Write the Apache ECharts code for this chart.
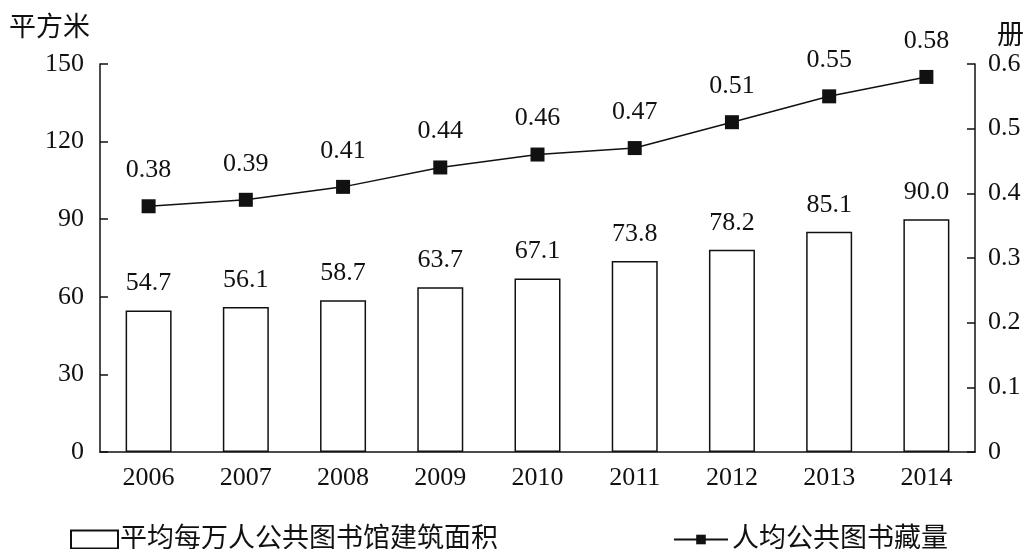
<!DOCTYPE html>
<html>
<head>
<meta charset="utf-8">
<script src="https://cdn.jsdelivr.net/npm/echarts@6/dist/echarts.min.js"></script>
<style>
  html, body { margin: 0; padding: 0; background: #fff; }
  #chart { width: 1028px; height: 549px; }
</style>
</head>
<body>
<div id="chart"></div>
<script>
// Years on the category axis
const years = ['2006', '2007', '2008', '2009', '2010', '2011', '2012', '2013', '2014'];
// Floor area of public libraries per 10,000 people (m²)
const areaPerTenThousand = [54.7, 56.1, 58.7, 63.7, 67.1, 73.8, 78.2, 85.1, 90.0];
// Public library holdings per person (volumes)
const booksPerCapita = [0.38, 0.39, 0.41, 0.44, 0.46, 0.47, 0.51, 0.55, 0.58];
// Axis tick values
const leftTicks = [0, 30, 60, 90, 120, 150];
const rightTicks = [0, 0.1, 0.2, 0.3, 0.4, 0.5, 0.6];

const areaName = '平均每万人公共图书馆建筑面积';
const booksName = '人均公共图书藏量';

const FONT = '"Liberation Serif", "Noto Sans CJK SC", serif';
const INK = '#111';
const NUM_SIZE = 26;
const CJK_SIZE = 27;

const chart = echarts.init(document.getElementById('chart'), null, { renderer: 'canvas' });

const axisCommon = {
  type: 'value',
  splitLine: { show: false },
  axisLine: { show: true, lineStyle: { color: INK, width: 1.5 } },
  axisTick: { show: true, inside: true, length: 8, lineStyle: { color: INK, width: 1.5 } },
  axisLabel: { color: INK, fontFamily: FONT, fontSize: NUM_SIZE },
  nameTextStyle: { color: INK, fontFamily: FONT, fontSize: CJK_SIZE }
};

chart.setOption({
  animation: false,
  backgroundColor: '#fff',
  grid: { left: 100, right: 53, top: 64, bottom: 97 },
  legend: [
    {
      data: [areaName],
      left: 65,
      top: 521,
      icon: 'rect',
      itemWidth: 47,
      itemHeight: 18,
      itemGap: 4,
      textStyle: { color: INK, fontFamily: FONT, fontSize: CJK_SIZE, padding: [0, 0, 0, -3] }
    },
    {
      data: [booksName],
      left: 668,
      top: 521,
      itemWidth: 54,
      itemHeight: 12,
      textStyle: { color: INK, fontFamily: FONT, fontSize: CJK_SIZE, padding: [0, 0, 0, -1] }
    }
  ],
  xAxis: {
    type: 'category',
    data: years,
    axisLine: { lineStyle: { color: INK, width: 1.5 } },
    axisTick: { show: false },
    axisLabel: { color: INK, fontFamily: FONT, fontSize: NUM_SIZE, margin: 13 }
  },
  yAxis: [
    Object.assign({}, axisCommon, {
      min: leftTicks[0],
      max: leftTicks[leftTicks.length - 1],
      interval: leftTicks[1] - leftTicks[0],
      name: '平方米',
      nameLocation: 'end',
      nameGap: 22,
      nameTextStyle: Object.assign({}, axisCommon.nameTextStyle, { align: 'right', padding: [0, 10, 0, 0] }),
      axisLabel: Object.assign({}, axisCommon.axisLabel, { margin: 16 })
    }),
    Object.assign({}, axisCommon, {
      position: 'right',
      min: rightTicks[0],
      max: rightTicks[rightTicks.length - 1],
      interval: 0.1,
      name: '册',
      nameLocation: 'end',
      nameGap: 14,
      nameTextStyle: Object.assign({}, axisCommon.nameTextStyle, { align: 'left', padding: [0, 0, 0, 22] }),
      axisLabel: Object.assign({}, axisCommon.axisLabel, { margin: 13 })
    })
  ],
  series: [
    {
      name: areaName,
      type: 'bar',
      yAxisIndex: 0,
      data: areaPerTenThousand,
      barWidth: 46,
      itemStyle: { color: '#fff', borderColor: INK, borderWidth: 1.5 },
      label: {
        show: true,
        position: 'top',
        distance: 14,
        color: INK,
        fontFamily: FONT,
        fontSize: NUM_SIZE,
        formatter: p => p.value.toFixed(1)
      }
    },
    {
      name: booksName,
      type: 'line',
      yAxisIndex: 1,
      data: booksPerCapita,
      symbol: 'rect',
      symbolSize: 14,
      lineStyle: { color: INK, width: 1.5 },
      itemStyle: { color: INK },
      label: {
        show: true,
        position: 'top',
        distance: 16,
        color: INK,
        fontFamily: FONT,
        fontSize: NUM_SIZE,
        formatter: p => p.value.toFixed(2)
      }
    }
  ]
});
</script>
</body>
</html>
